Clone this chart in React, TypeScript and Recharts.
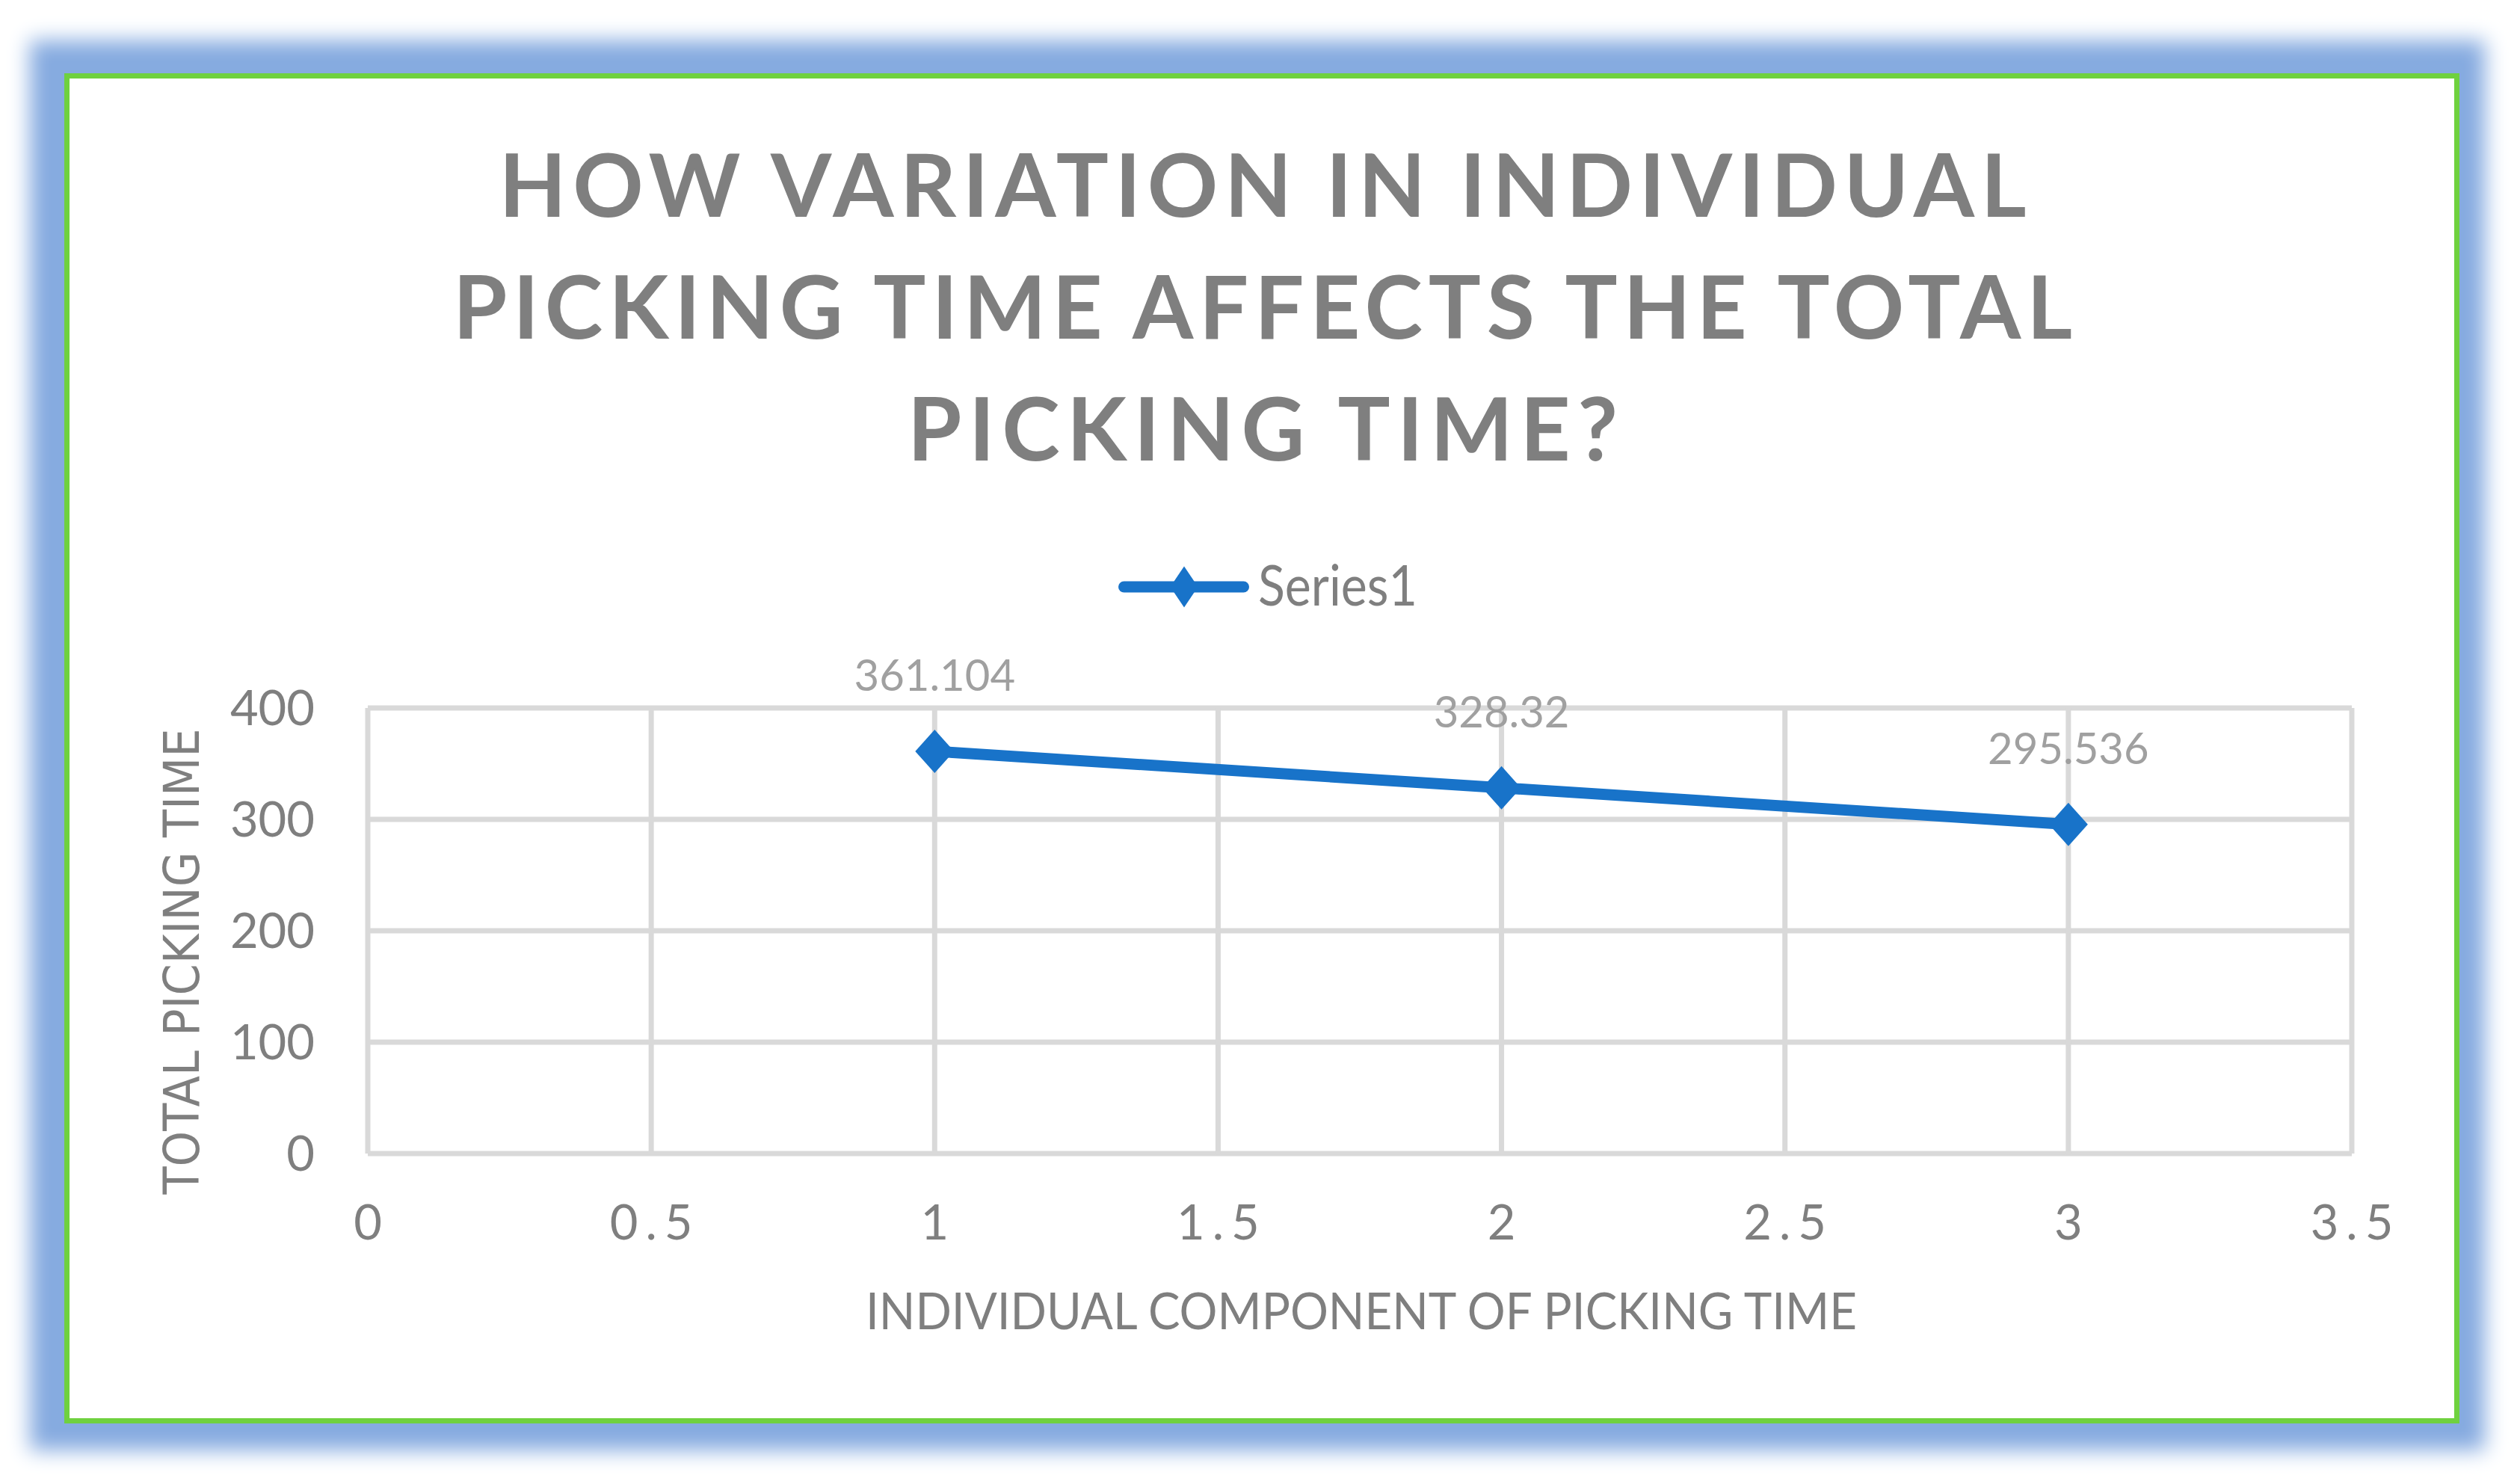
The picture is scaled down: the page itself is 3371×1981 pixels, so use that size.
import React from "react";
import { LineChart, Line, XAxis, YAxis, CartesianGrid, Legend, LabelList } from "recharts";

// values
const components = [1, 2, 3];
const totals = [361.104, 328.32, 295.536];
const xTicks = [0, 0.5, 1, 1.5, 2, 2.5, 3, 3.5];
const yTicks = [0, 100, 200, 300, 400];
const titleLines = ["HOW VARIATION IN INDIVIDUAL", "PICKING TIME AFFECTS THE TOTAL", "PICKING TIME?"];

const data = components.map((x, i) => ({ x, y: totals[i] }));

const W = 3371;
const H = 1981;
const BLUE = "#1873C9";
const GRAY = "#7f7f7f";
const FONT = "Lato, 'Open Sans', sans-serif";

const Diamond = (props: any) => {
    const { cx, cy, index } = props;
    if (cx == null || cy == null) return null;
    const pts = `${cx},${cy - 29} ${cx + 26},${cy} ${cx},${cy + 29} ${cx - 26},${cy}`;
    return <polygon key={`d-${index}`} points={pts} fill={BLUE} />;
};

const ValueLabel = (props: any) => {
    const { x, y, value, index } = props;
    return (
        <text key={`l-${index}`} x={x} y={y - 81} textAnchor="middle" fill="#a0a0a0" fontSize={58} fontFamily={FONT}>
            {String(value)}
        </text>
    );
};

const LegendContent = () => (
    <svg width={460} height={120} style={{ overflow: "visible" }}>
        <line x1={17.5} y1={50} x2={177.5} y2={50} stroke={BLUE} strokeWidth={15} strokeLinecap="round" />
        <polygon points="98,22.5 116.5,50 98,77.5 79.5,50" fill={BLUE} />
        <text x={197} y={75} fill={GRAY} fontSize={76} fontFamily={FONT} textLength={213} lengthAdjust="spacingAndGlyphs">
            Series1
        </text>
    </svg>
);

export default function App() {
    return (
        <div style={{ position: "absolute", left: 0, top: 0, width: W, height: H, background: "#fff", fontFamily: FONT }}>
            {/* framed box with glow */}
            <div
                style={{
                    position: "absolute",
                    left: 86,
                    top: 98,
                    width: 3204,
                    height: 1806,
                    boxSizing: "border-box",
                    border: "7px solid #6FD13F",
                    background: "#fff",
                    boxShadow: "-6px -4px 26px 40px #86abe0",
                }}
            />
            <div style={{ position: "absolute", left: 0, top: 0 }}>
                <LineChart width={W} height={H} data={data} margin={{ top: 947, right: 225, bottom: 288, left: 292 }}>
                    <CartesianGrid stroke="#d9d9d9" strokeWidth={7} />
                    <XAxis
                        type="number"
                        dataKey="x"
                        domain={[0, 3.5]}
                        ticks={xTicks}
                        height={150}
                        axisLine={false}
                        tickLine={false}
                        tickMargin={63}
                        tick={{ fill: GRAY, fontSize: 65, fontFamily: FONT, letterSpacing: 10, dx: 5 }}
                    />
                    <YAxis
                        type="number"
                        domain={[0, 400]}
                        ticks={yTicks}
                        width={200}
                        axisLine={false}
                        tickLine={false}
                        tickMargin={65}
                        tick={{ fill: GRAY, fontSize: 65, fontFamily: FONT }}
                    />
                    <Legend
                        layout="horizontal"
                        verticalAlign="middle"
                        align="center"
                        content={LegendContent}
                        wrapperStyle={{ position: "absolute", left: 1486, top: 735, width: 460, height: 120 }}
                    />
                    <Line
                        type="linear"
                        dataKey="y"
                        name="Series1"
                        stroke={BLUE}
                        strokeWidth={15}
                        dot={Diamond}
                        activeDot={false}
                        isAnimationActive={false}
                    >
                        <LabelList dataKey="y" content={ValueLabel} />
                    </Line>
                </LineChart>
            </div>
            {/* titles */}
            <svg width={W} height={H} style={{ position: "absolute", left: 0, top: 0, pointerEvents: "none" }}>
                {titleLines.map((t, i) => (
                    <text
                        key={t}
                        x={1689}
                        y={290 + i * 163}
                        textAnchor="middle"
                        fill={GRAY}
                        fontSize={117}
                        fontWeight="bold"
                        fontFamily={FONT}
                        textLength={[2043, 2166, 950][i]}
                        lengthAdjust="spacing"
                    >
                        {t}
                    </text>
                ))}
                <text
                    transform="translate(266, 1286) rotate(-90)"
                    textAnchor="middle"
                    fill={GRAY}
                    fontSize={66}
                    fontFamily="'DejaVu Sans', sans-serif"
                    textLength={623}
                    lengthAdjust="spacingAndGlyphs"
                >
                    TOTAL PICKING TIME
                </text>
                <text
                    x={1821}
                    y={1778}
                    textAnchor="middle"
                    fill={GRAY}
                    fontSize={67}
                    fontFamily={FONT}
                    textLength={1326}
                    lengthAdjust="spacingAndGlyphs"
                >
                    INDIVIDUAL COMPONENT OF PICKING TIME
                </text>
            </svg>
        </div>
    );
}
